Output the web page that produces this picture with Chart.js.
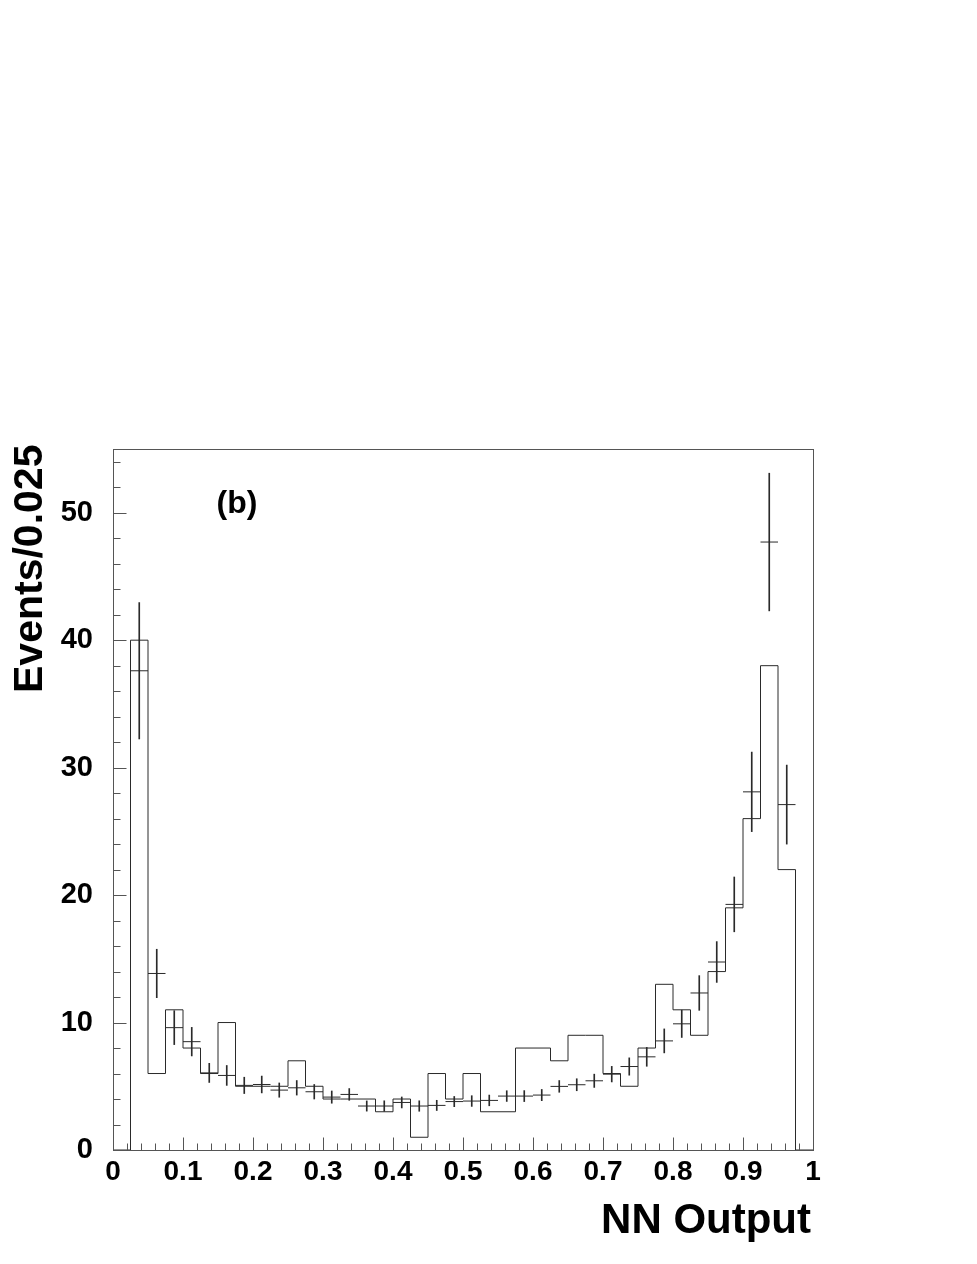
<!DOCTYPE html>
<html>
<head>
<meta charset="utf-8">
<script src="https://cdn.jsdelivr.net/npm/chart.js@4/dist/chart.umd.min.js"></script>
<style>
  html, body { margin: 0; padding: 0; background: #fff; }
  #wrap { width: 977px; height: 1264px; position: relative; }
</style>
</head>
<body>
<div id="wrap"><canvas id="c"></canvas></div>
<script>
// ---- Data ----
// Histogram (solid line): lower bin edges (bin width 0.025) and contents
const binEdges = [0, 0.025, 0.05, 0.075, 0.1, 0.125, 0.15, 0.175, 0.2, 0.225,
  0.25, 0.275, 0.3, 0.325, 0.35, 0.375, 0.4, 0.425, 0.45, 0.475,
  0.5, 0.525, 0.55, 0.575, 0.6, 0.625, 0.65, 0.675, 0.7, 0.725,
  0.75, 0.775, 0.8, 0.825, 0.85, 0.875, 0.9, 0.925, 0.95, 0.975];
const histUpperEdge = 1.0;
const histValues = [0, 40, 6, 11, 8, 6, 10, 5, 5, 5,
  7, 5, 4, 4, 4, 3, 4, 1, 6, 4,
  6, 3, 3, 8, 8, 7, 9, 9, 6, 5,
  8, 13, 11, 9, 14, 19, 26, 38, 22, 0];

// Points with error bars (crosses): bin centres, values, errors
const pointCenters = [0.0375, 0.0625, 0.0875, 0.1125, 0.1375, 0.1625, 0.1875, 0.2125, 0.2375, 0.2625,
  0.2875, 0.3125, 0.3375, 0.3625, 0.3875, 0.4125, 0.4375, 0.4625, 0.4875, 0.5125,
  0.5375, 0.5625, 0.5875, 0.6125, 0.6375, 0.6625, 0.6875, 0.7125, 0.7375, 0.7625,
  0.7875, 0.8125, 0.8375, 0.8625, 0.8875, 0.9125, 0.9375, 0.9625];
const pointValues = [37.6, 13.85, 9.6, 8.5, 6.05, 5.85, 5.07, 5.14, 4.7, 4.88,
  4.57, 4.15, 4.36, 3.45, 3.45, 3.73, 3.45, 3.5, 3.8, 3.84,
  3.89, 4.23, 4.23, 4.31, 4.99, 5.12, 5.43, 5.95, 6.55, 7.31,
  8.56, 9.9, 12.32, 14.75, 19.27, 28.1, 47.7, 27.1];
const pointErrors = [5.35, 1.9, 1.33, 1.12, 0.75, 0.78, 0.64, 0.66, 0.56, 0.57,
  0.57, 0.48, 0.46, 0.4, 0.41, 0.43, 0.41, 0.4, 0.4, 0.42,
  0.42, 0.42, 0.43, 0.44, 0.46, 0.47, 0.52, 0.61, 0.68, 0.74,
  0.94, 1.07, 1.36, 1.6, 2.15, 3.12, 5.4, 3.1];

// Axis definitions
const xMin = 0, xMax = 1, xStep = 0.1, xMinorStep = 0.02;
const yMin = 0, yMax = 55, yStep = 10, yMinorStep = 2;
const xTitle = 'NN Output';
const yTitle = 'Events/0.025';
const panelLabel = '(b)';

// ---- Build datasets ----
const histData = binEdges.map((e, i) => ({ x: e, y: histValues[i] }));
histData.push({ x: histUpperEdge, y: 0 });
const pointData = pointCenters.map((c, i) => ({ x: c, y: pointValues[i] }));
const errData = pointCenters.map((c, i) => ({ x: c, y: [pointValues[i] - pointErrors[i], pointValues[i] + pointErrors[i]] }));

const LINE = '#2a2a2a';
const FONT = '"Liberation Sans", Arial, Helvetica, sans-serif';

const framePlugin = {
  id: 'frame',
  afterDraw(chart) {
    const ctx = chart.ctx;
    const a = chart.chartArea;
    const xs = chart.scales.x, ys = chart.scales.y;
    const L = Math.round(a.left) + 0.5, R = Math.round(a.right) + 0.5;
    const T = Math.round(a.top) + 0.5, B = Math.round(a.bottom) + 0.5;
    ctx.save();
    ctx.strokeStyle = '#555';
    ctx.lineWidth = 1;
    ctx.strokeRect(L, T, R - L, B - T);
    // inward tick marks
    ctx.beginPath();
    const nx = Math.round((xMax - xMin) / xMinorStep);
    const perX = Math.round(xStep / xMinorStep);
    for (let k = 0; k <= nx; k++) {
      const v = xMin + k * xMinorStep;
      const px = Math.round(xs.getPixelForValue(v)) + 0.5;
      const len = (k % perX === 0) ? 13 : 7;
      ctx.moveTo(px, B); ctx.lineTo(px, B - len);
    }
    const ny = Math.floor((yMax - yMin) / yMinorStep);
    const perY = Math.round(yStep / yMinorStep);
    for (let k = 0; k <= ny; k++) {
      const v = yMin + k * yMinorStep;
      const py = Math.round(ys.getPixelForValue(v)) + 0.5;
      const len = (k % perY === 0) ? 13 : 7;
      ctx.moveTo(L, py); ctx.lineTo(L + len, py);
    }
    ctx.stroke();
    // titles
    ctx.fillStyle = '#000';
    ctx.font = 'bold 42px ' + FONT;
    ctx.textAlign = 'right';
    ctx.textBaseline = 'alphabetic';
    ctx.fillText(xTitle, 811, 1233);
    ctx.save();
    ctx.translate(42, 693);
    ctx.rotate(-Math.PI / 2);
    ctx.textAlign = 'left';
    ctx.font = 'bold 41px ' + FONT;
    ctx.fillText(yTitle, 0, 0);
    ctx.restore();
    ctx.font = 'bold 32px ' + FONT;
    ctx.textAlign = 'center';
    ctx.fillText(panelLabel, 237, 513);
    ctx.restore();
  }
};

new Chart(document.getElementById('c'), {
  type: 'bar',
  data: {
    datasets: [
      {
        type: 'line',
        label: 'hist',
        data: histData,
        stepped: 'before',
        borderColor: LINE,
        borderWidth: 1,
        pointRadius: 0,
        fill: false,
        tension: 0,
        order: 1
      },
      {
        type: 'line',
        label: 'points',
        data: pointData,
        showLine: false,
        pointStyle: 'line',
        pointRadius: 8.75,
        pointBorderWidth: 1,
        pointBorderColor: LINE,
        pointBackgroundColor: LINE,
        order: 0
      },
      {
        type: 'bar',
        label: 'errors',
        data: errData,
        barThickness: 1,
        backgroundColor: LINE,
        borderWidth: 0,
        order: 0
      }
    ]
  },
  options: {
    responsive: true,
    maintainAspectRatio: false,
    animation: false,
    events: [],
    layout: { padding: { top: 449, right: 164, left: 0, bottom: 0 } },
    plugins: { legend: { display: false }, tooltip: { enabled: false }, title: { display: false } },
    scales: {
      x: {
        type: 'linear',
        min: xMin, max: xMax,
        offset: false,
        grid: { display: false, drawTicks: false, offset: false },
        border: { display: false },
        ticks: {
          stepSize: xStep,
          autoSkip: false,
          maxRotation: 0,
          padding: 5,
          color: '#000',
          font: { family: FONT, size: 28, weight: 'bold' },
          callback: v => String(Number(v.toFixed(1)))
        },
        afterFit: s => { s.height = 114; }
      },
      y: {
        type: 'linear',
        min: yMin, max: yMax,
        grid: { display: false, drawTicks: false },
        border: { display: false },
        ticks: {
          stepSize: yStep,
          includeBounds: false,
          padding: 20,
          color: '#000',
          font: { family: FONT, size: 29, weight: 'bold' },
          callback: v => String(v)
        },
        afterFit: s => { s.width = 113; }
      }
    }
  },
  plugins: [framePlugin]
});
</script>
</body>
</html>
